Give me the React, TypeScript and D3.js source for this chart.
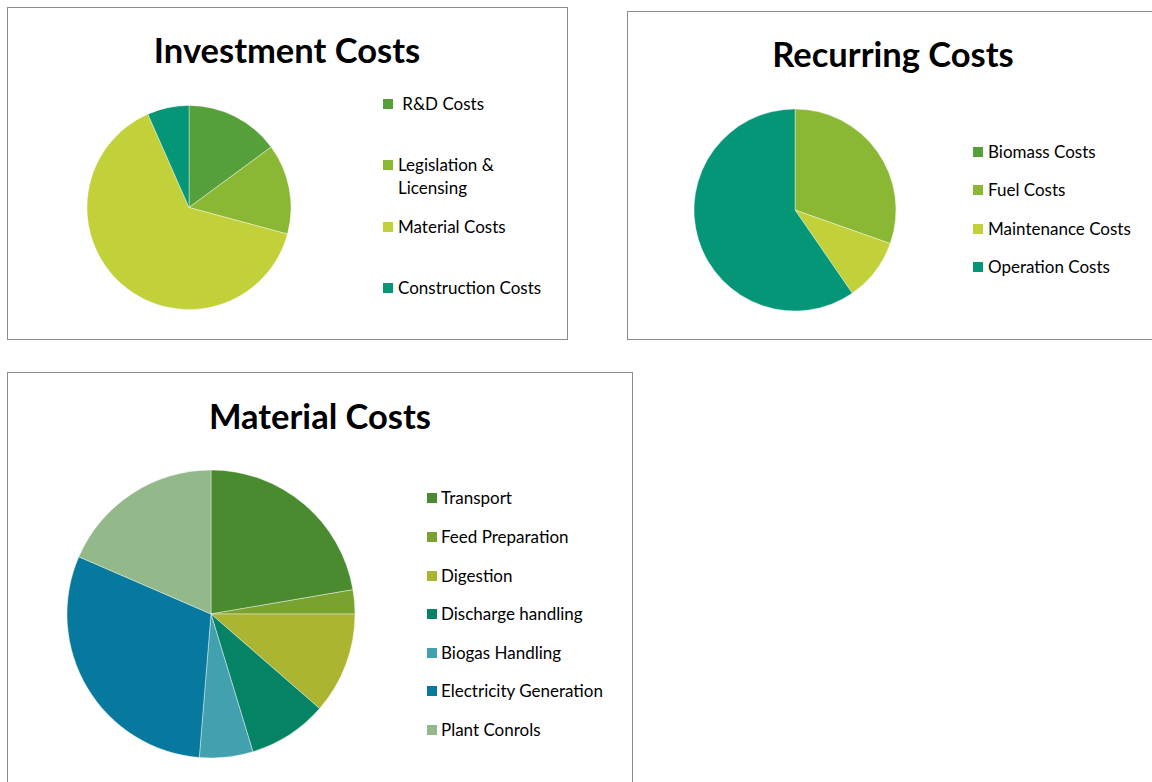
import React from "react";
import * as d3 from "d3";

const investCategories = [" R&D Costs", "Legislation & Licensing", "Material Costs", "Construction Costs"];
const investValues = [14.9, 14.3, 64.2, 6.6];
const investColors = ["#55a03a", "#8bb834", "#c2d03a", "#059577"];

const recurCategories = ["Biomass Costs", "Fuel Costs", "Maintenance Costs", "Operation Costs"];
const recurValues = [0, 30.4, 10.0, 59.6];
const recurColors = ["#55a03a", "#8bb834", "#c2d03a", "#059577"];

const materialCategories = ["Transport", "Feed Preparation", "Digestion", "Discharge handling", "Biogas Handling", "Electricity Generation", "Plant Conrols"];
const materialValues = [22.3, 2.7, 11.4, 8.9, 6.0, 30.2, 18.5];
const materialColors = ["#4a8b30", "#7aa22f", "#abb532", "#058465", "#42a0af", "#08799e", "#93b98a"];

type PanelProps = {
  box: [number, number, number, number];
  title: string;
  titleX: number;
  titleY: number;
  cx: number;
  cy: number;
  r: number;
  values: number[];
  colors: string[];
  legend: { label: string[]; y: number }[];
  legendX: number;
  textX: number;
};

function Panel(p: PanelProps) {
  const pie = d3.pie<number>().sort(null).value((d) => d);
  const arcs = pie(p.values);
  const arc = d3.arc<d3.PieArcDatum<number>>().innerRadius(0).outerRadius(p.r);
  return (
    <g>
      <rect x={p.box[0] + 0.5} y={p.box[1] + 0.5} width={p.box[2]} height={p.box[3]} fill="#fff" stroke="#8c8c8c" strokeWidth={1} />
      <text x={p.titleX} y={p.titleY} textAnchor="middle" fontFamily="Lato, 'Open Sans', sans-serif" fontWeight={700} fontSize={34.5} fill="#000">{p.title}</text>
      <g transform={`translate(${p.cx},${p.cy})`}>
        {arcs.map((a, i) => (a.value > 0 ? <path key={i} d={arc(a) || ""} fill={p.colors[i]} stroke="#fff" strokeWidth={0.4} /> : null))}
      </g>
      {p.legend.map((l, i) => (
        <g key={i}>
          <rect x={p.legendX} y={l.y - 5} width={10} height={10} fill={p.colors[i]} />
          {l.label.map((t, j) => (
            <text key={j} x={p.textX} y={l.y + 6 + j * 23} fontFamily="Lato, 'Open Sans', sans-serif" fontSize={17} fill="#000" style={{ whiteSpace: "pre" }}>{t}</text>
          ))}
        </g>
      ))}
    </g>
  );
}

export default function App() {
  const investLegendY = [104, 165, 227, 288];
  const recurLegendY = [152, 190, 229, 267];
  const materialLegendY = [498, 537, 576, 614, 653, 691, 730];
  return (
    <svg width={1152} height={782} style={{ position: "absolute", left: 0, top: 0, background: "#fff" }}>
      <Panel
        box={[7, 7, 560, 332]}
        title="Investment Costs"
        titleX={287}
        titleY={63}
        cx={189}
        cy={207.5}
        r={102}
        values={investValues}
        colors={investColors}
        legend={investCategories.map((c, i) => ({ label: i === 1 ? ["Legislation &", "Licensing"] : [c], y: investLegendY[i] }))}
        legendX={383}
        textX={398}
      />
      <Panel
        box={[627, 11, 540, 328]}
        title="Recurring Costs"
        titleX={893}
        titleY={67}
        cx={795}
        cy={210}
        r={101}
        values={recurValues}
        colors={recurColors}
        legend={recurCategories.map((c, i) => ({ label: [c], y: recurLegendY[i] }))}
        legendX={973}
        textX={988}
      />
      <Panel
        box={[7, 372, 625, 420]}
        title="Material Costs"
        titleX={320}
        titleY={429}
        cx={211}
        cy={614}
        r={144}
        values={materialValues}
        colors={materialColors}
        legend={materialCategories.map((c, i) => ({ label: [c], y: materialLegendY[i] }))}
        legendX={427}
        textX={441}
      />
    </svg>
  );
}
